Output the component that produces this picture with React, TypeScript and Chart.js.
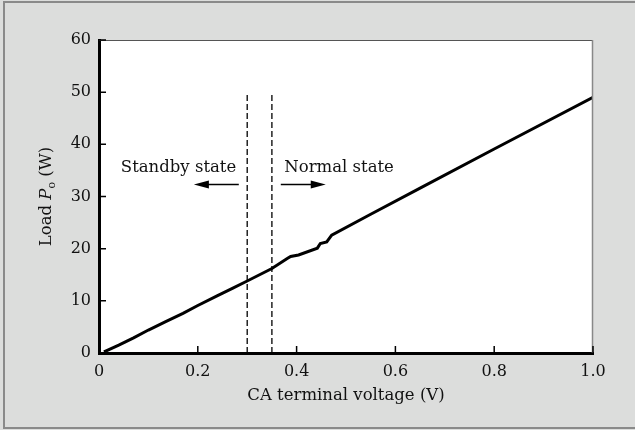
import React, { useEffect, useRef } from "react";
import { Chart, registerables } from "chart.js";

Chart.register(...registerables);

// ---- data ----
const voltage = [0.01, 0.04, 0.07, 0.1, 0.135, 0.17, 0.2, 0.24, 0.27, 0.3, 0.35, 0.381, 0.388, 0.404, 0.442, 0.448, 0.461, 0.471, 0.55, 0.65, 0.8, 1.0];
const load = [0.2, 1.5, 2.9, 4.4, 6.0, 7.6, 9.1, 11.0, 12.4, 13.8, 16.2, 18.1, 18.5, 18.8, 20.1, 21.0, 21.3, 22.6, 26.6, 31.6, 39.1, 49.0];
const boundaryVoltages = [0.3, 0.35];
const boundaryTop = [50, 50];
const xTickValues = [0, 0.2, 0.4, 0.6, 0.8, 1.0];
const yTickValues = [0, 10, 20, 30, 40, 50, 60];
const stateLabels = ["Standby state", "Normal state"];
const stateLabelX = [0.161, 0.486];
const stateLabelY = 34.7;
const arrowFrom = [0.283, 0.368];
const arrowTo = [0.192, 0.459];
const arrowY = 32.3;
const xTitle = "CA terminal voltage (V)";
const yTitleParts = ["Load ", "P", "o", " (W)"];

const FONT = "'DejaVu Serif', serif";

const decorPlugin = {
  id: "decor",
  beforeDraw(chart: any) {
    const { ctx, width, height, chartArea: a } = chart;
    ctx.save();
    ctx.fillStyle = "#dcdddc";
    ctx.fillRect(0, 0, width, height);
    ctx.strokeStyle = "#8a8a8a";
    ctx.lineWidth = 2;
    ctx.beginPath();
    ctx.moveTo(width + 2, 2);
    ctx.lineTo(4, 2);
    ctx.lineTo(4, height - 2);
    ctx.lineTo(width + 2, height - 2);
    ctx.stroke();
    ctx.fillStyle = "#ffffff";
    ctx.fillRect(a.left, a.top, a.right - a.left, a.bottom - a.top);
    ctx.restore();
  },
  afterDraw(chart: any) {
    const { ctx, chartArea: a } = chart;
    const xs = chart.scales.x;
    const ys = chart.scales.y;
    ctx.save();
    // top & right frame
    ctx.strokeStyle = "#555";
    ctx.lineWidth = 1;
    ctx.beginPath();
    ctx.moveTo(a.left, a.top + 0.5);
    ctx.lineTo(a.right - 0.5, a.top + 0.5);
    ctx.stroke();
    ctx.strokeStyle = "#888";
    ctx.lineWidth = 1.5;
    ctx.beginPath();
    ctx.moveTo(a.right - 0.5, a.top);
    ctx.lineTo(a.right - 0.5, a.bottom);
    ctx.stroke();
    // inward ticks
    ctx.strokeStyle = "#000";
    ctx.lineWidth = 1.5;
    ctx.beginPath();
    yTickValues.forEach((v) => {
      const py = ys.getPixelForValue(v);
      ctx.moveTo(a.left, py);
      ctx.lineTo(a.left + 7, py);
    });
    xTickValues.forEach((v) => {
      const px = xs.getPixelForValue(v);
      ctx.moveTo(px, a.bottom);
      ctx.lineTo(px, a.bottom - 7);
    });
    ctx.stroke();
    // state labels
    ctx.fillStyle = "#111";
    ctx.font = `16.5px ${FONT}`;
    ctx.textAlign = "center";
    ctx.textBaseline = "alphabetic";
    stateLabels.forEach((t, i) => {
      ctx.fillText(t, xs.getPixelForValue(stateLabelX[i]), ys.getPixelForValue(stateLabelY));
    });
    // arrows
    ctx.strokeStyle = "#000";
    ctx.fillStyle = "#000";
    ctx.lineWidth = 1.3;
    arrowFrom.forEach((f, i) => {
      const x1 = xs.getPixelForValue(f);
      const x2 = xs.getPixelForValue(arrowTo[i]);
      const py = ys.getPixelForValue(arrowY);
      const dir = x2 > x1 ? 1 : -1;
      ctx.beginPath();
      ctx.moveTo(x1, py);
      ctx.lineTo(x2 - dir * 8, py);
      ctx.stroke();
      ctx.beginPath();
      ctx.moveTo(x2, py);
      ctx.lineTo(x2 - dir * 15, py - 4);
      ctx.lineTo(x2 - dir * 15, py + 4);
      ctx.closePath();
      ctx.fill();
    });
    // x title
    ctx.fillStyle = "#111";
    ctx.font = `16.5px ${FONT}`;
    ctx.textAlign = "center";
    ctx.textBaseline = "alphabetic";
    ctx.fillText(xTitle, (a.left + a.right) / 2, 400);
    // y title (rotated, italic P with subscript o)
    const cy = (a.top + a.bottom) / 2;
    ctx.translate(51, cy);
    ctx.rotate(-Math.PI / 2);
    ctx.textAlign = "left";
    const fonts = [`16.5px ${FONT}`, `italic 16.5px ${FONT}`, `11px ${FONT}`, `16.5px ${FONT}`];
    const offs = [0, 0, 4, 0];
    let total = 0;
    const widths = yTitleParts.map((p, i) => {
      ctx.font = fonts[i];
      const w = ctx.measureText(p).width;
      total += w;
      return w;
    });
    let cx = -total / 2;
    yTitleParts.forEach((p, i) => {
      ctx.font = fonts[i];
      ctx.fillText(p, cx, offs[i]);
      cx += widths[i];
    });
    ctx.restore();
  },
};

export default function App() {
  const ref = useRef<HTMLCanvasElement | null>(null);
  useEffect(() => {
    if (!ref.current) return;
    const curve = voltage.map((v, i) => ({ x: v, y: load[i] }));
    const dashed = boundaryVoltages.map((v, i) => ({
      type: "line" as const,
      data: [
        { x: v, y: 0 },
        { x: v, y: boundaryTop[i] },
      ],
      borderColor: "#000",
      borderWidth: 1.3,
      borderDash: [6, 3],
      pointRadius: 0,
      fill: false,
    }));
    const chart = new Chart(ref.current, {
      type: "line",
      data: {
        datasets: [
          {
            data: curve,
            borderColor: "#000",
            borderWidth: 3,
            pointRadius: 0,
            tension: 0,
            fill: false,
          },
          ...dashed,
        ],
      },
      plugins: [decorPlugin],
      options: {
        animation: false,
        responsive: true,
        maintainAspectRatio: false,
        layout: { padding: { left: 0, top: 40, right: 42, bottom: 0 } },
        plugins: { legend: { display: false }, tooltip: { enabled: false } },
        scales: {
          x: {
            type: "linear",
            min: 0,
            max: 1,
            afterFit: (s: any) => {
              s.height = 77;
            },
            afterBuildTicks: (s: any) => {
              s.ticks = xTickValues.map((v) => ({ value: v }));
            },
            ticks: {
              callback: (v: any) => (Number(v) === 0 ? "0" : Number(v).toFixed(1)),
              font: { family: FONT, size: 16 },
              color: "#111",
              padding: 9,
              maxRotation: 0,
            },
            grid: { display: false, drawOnChartArea: false, drawTicks: false },
            border: { display: true, width: 3, color: "#000" },
          },
          y: {
            type: "linear",
            min: 0,
            max: 60,
            afterFit: (s: any) => {
              s.width = 99;
            },
            afterBuildTicks: (s: any) => {
              s.ticks = yTickValues.map((v) => ({ value: v }));
            },
            ticks: {
              font: { family: FONT, size: 16 },
              color: "#111",
              padding: 8,
            },
            grid: { display: false, drawOnChartArea: false, drawTicks: false },
            border: { display: true, width: 3, color: "#000" },
          },
        },
      },
    });
    return () => chart.destroy();
  }, []);
  return (
    <div style={{ position: "absolute", left: 0, top: 0, width: 635, height: 430 }}>
      <canvas ref={ref} />
    </div>
  );
}
